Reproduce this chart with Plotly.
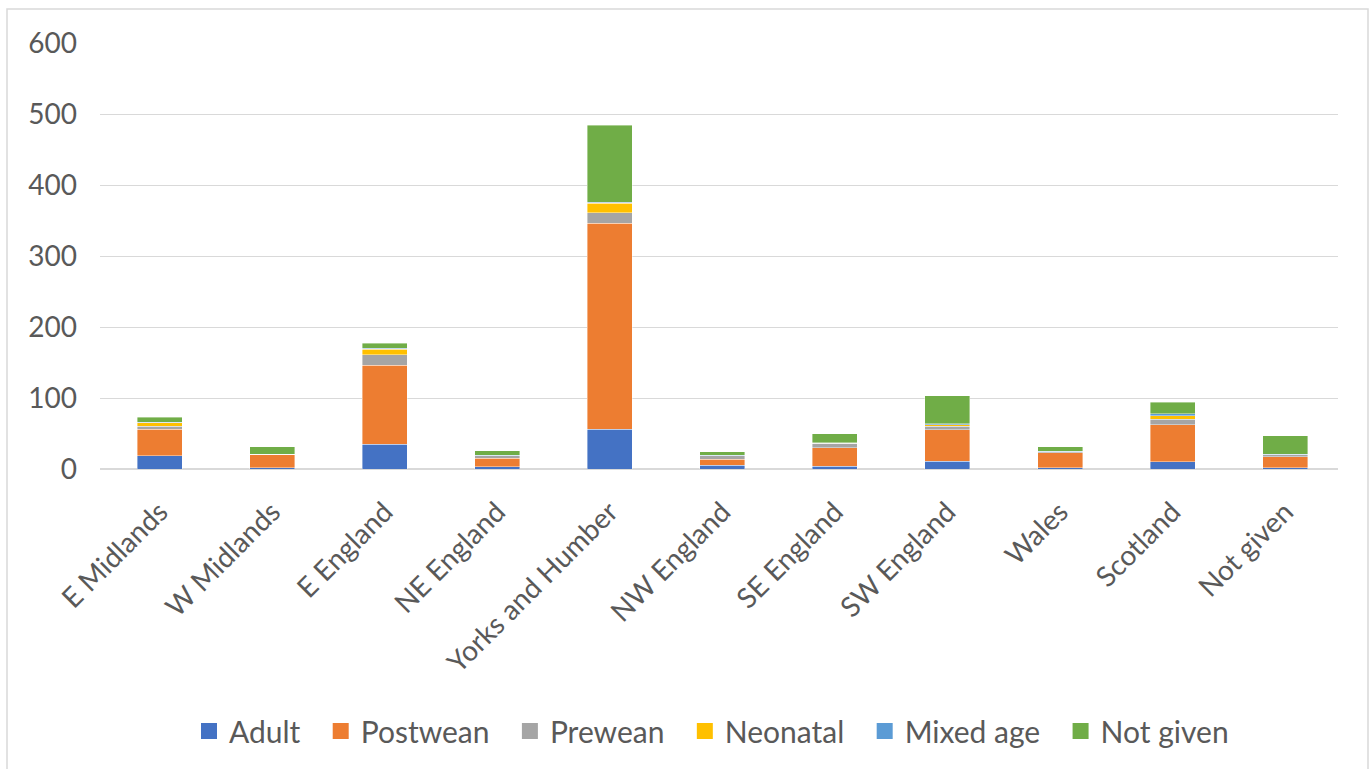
import plotly.graph_objects as go

regions = ["E Midlands", "W Midlands", "E England", "NE England", "Yorks and Humber",
           "NW England", "SE England", "SW England", "Wales", "Scotland", "Not given"]

adult     = [19, 2, 35, 3, 56, 5, 4, 11, 2, 10, 2]
postwean  = [37, 18, 111, 12, 290, 9, 26, 44, 21, 52, 15]
prewean   = [4, 0.5, 15, 4, 15, 5, 6, 5, 1.5, 8, 3]
neonatal  = [5, 0, 8, 0, 13, 0, 0.5, 2, 0, 5, 0]
mixed_age = [1, 0.5, 1, 0.5, 2, 0.5, 0.5, 2, 0.5, 3, 0.5]
not_given = [7, 10, 7, 6, 108, 5, 13, 39, 6, 16, 26]

series = [
    ("Adult", adult, "#4472C4"),
    ("Postwean", postwean, "#ED7D31"),
    ("Prewean", prewean, "#A5A5A5"),
    ("Neonatal", neonatal, "#FFC000"),
    ("Mixed age", mixed_age, "#5B9BD5"),
    ("Not given", not_given, "#70AD47"),
]

FONT = "Lato, Calibri, 'Open Sans', sans-serif"
TXT = "#595959"

fig = go.Figure()
for name, vals, col in series:
    fig.add_trace(go.Bar(
        x=regions, y=vals, name=name, legendgroup=name, showlegend=False,
        marker=dict(color=col, line=dict(color="rgba(255,255,255,0.5)", width=0.8)),
    ))
# legend entries with larger square swatches
for name, vals, col in series:
    fig.add_trace(go.Scatter(
        x=[regions[0]], y=[None], mode="markers", name=name + "  ", legendgroup=name,
        marker=dict(symbol="square", size=17, color=col), hoverinfo="skip",
    ))

fig.update_layout(
    barmode="stack",
    bargap=0.6,
    width=1372, height=769,
    margin=dict(l=100, r=34, t=43, b=300),
    plot_bgcolor="white",
    paper_bgcolor="white",
    font=dict(family=FONT, size=28, color=TXT),
    legend=dict(orientation="h", x=0.5, xanchor="center", y=-0.615, yanchor="middle",
                font=dict(family=FONT, size=30, color=TXT),
                traceorder="normal", itemwidth=30),
    showlegend=True,
)
fig.update_yaxes(
    range=[0, 600], dtick=100, showgrid=True, gridcolor="#D9D9D9", gridwidth=1,
    zeroline=True, zerolinecolor="#D9D9D9", zerolinewidth=1.5,
    showline=False, ticks="", ticklabelstandoff=22,
    tickfont=dict(family=FONT, size=28, color=TXT),
)
fig.update_xaxes(
    range=[-0.53, 10.47], autorange=False,
    tickangle=-45, showgrid=False, showline=False, ticks="", ticklabelstandoff=20,
    tickfont=dict(family=FONT, size=28, color=TXT),
)

# chart border
fig.add_shape(type="rect", xref="paper", yref="paper",
              x0=(7 - 100) / 1238, x1=(1368 - 100) / 1238,
              y0=-(790 - 469) / 426, y1=1 + (43 - 9) / 426,
              line=dict(color="#D9D9D9", width=1.5), fillcolor="rgba(0,0,0,0)", layer="below")

fig.write_html("out.html")
